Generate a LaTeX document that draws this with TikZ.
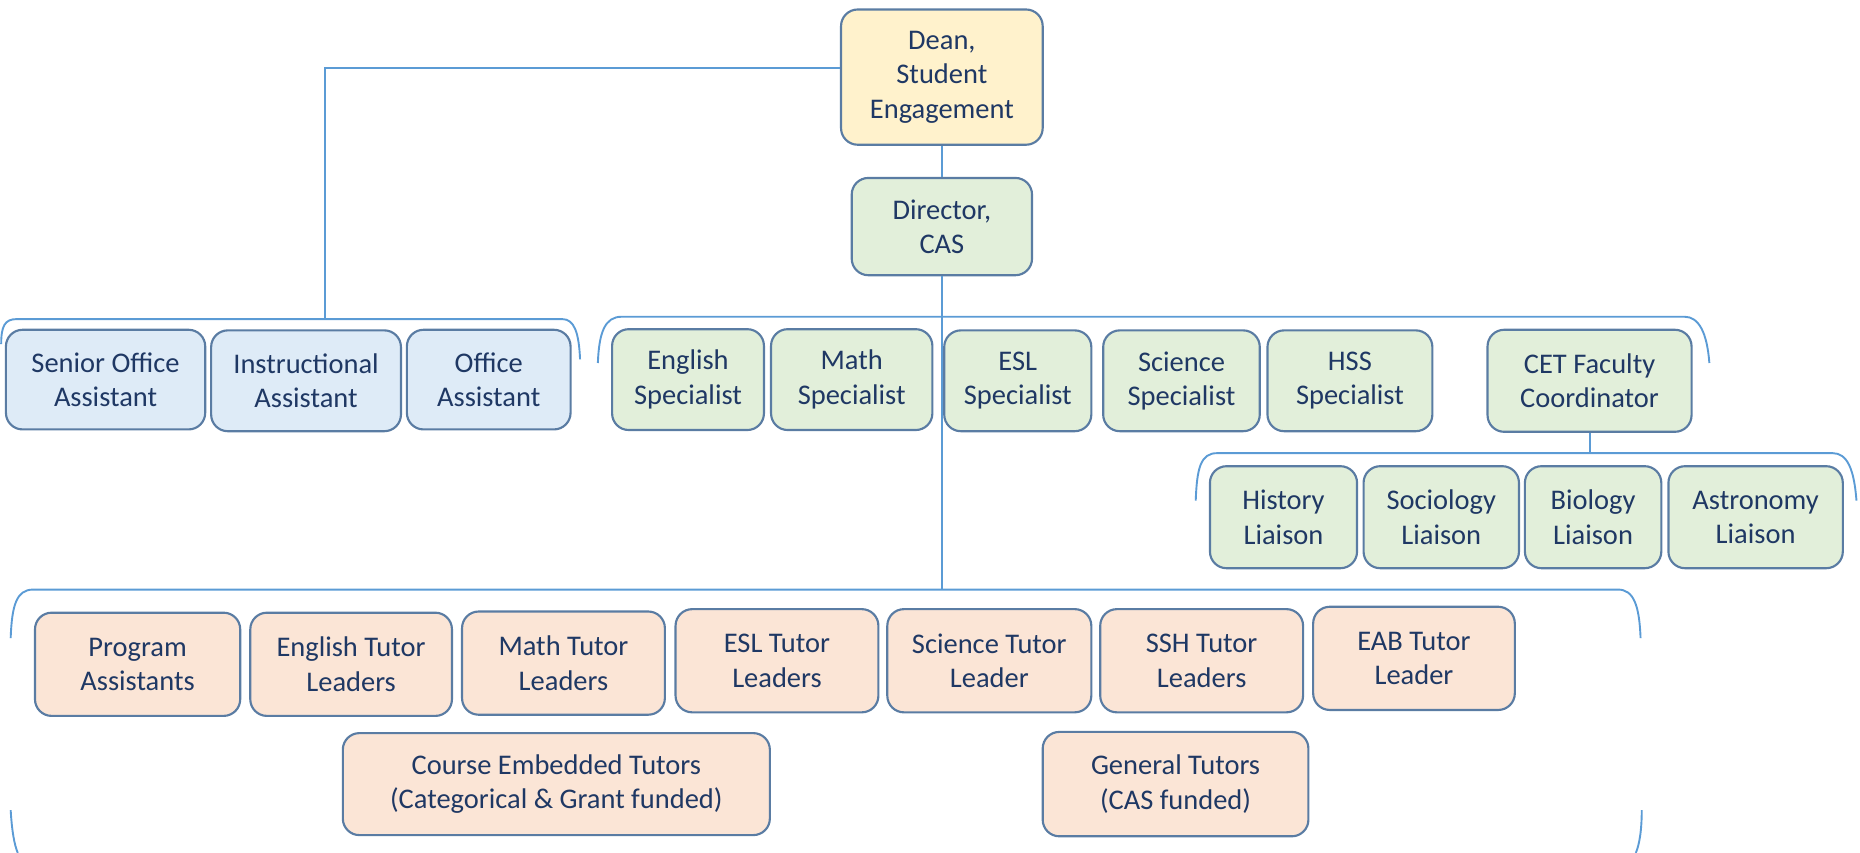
\documentclass[tikz,border=0pt]{standalone}
\usepackage{fontspec}
\setmainfont{Carlito}
\usetikzlibrary{positioning}
\definecolor{ink}{HTML}{1F3864}
\definecolor{rim}{HTML}{5A7CA3}
\definecolor{wire}{HTML}{5B9BD5}
\definecolor{deanfill}{HTML}{FFF2CC}
\definecolor{greenfill}{HTML}{E2EFDA}
\definecolor{bluefill}{HTML}{DEEBF7}
\definecolor{peachfill}{HTML}{FBE5D6}
\tikzset{
    box/.style ={
        shape=rectangle,
        rounded corners=7pt,
        draw=rim,
        line width=0.9pt,
        text=ink,
        align=center,
        inner sep=0pt,
        font=\fontsize{12}{14.5}\selectfont
    },
    deanbox/.style ={box, fill=deanfill},
    greenbox/.style ={box, fill=greenfill},
    staffbox/.style ={box, fill=bluefill},
    tutorbox/.style ={box, fill=peachfill},
    wire/.style ={draw=wire, line width=0.8pt}
}

\begin{document}
\begin{tikzpicture}[x=0.5pt,y=-0.5pt]
    \useasboundingbox (0,0) rectangle (1568,719);
    % top
    \node[deanbox,minimum width=85pt,minimum height=57pt] (dean) at(794,65) {Dean,\\Student\\Engagement};
    \node[greenbox,minimum width=76pt,minimum height=41pt] (dir) at(794,191) {Director,\\CAS};
    % support staff
    \node[staffbox,minimum width=84pt,minimum height=42pt] (senior) at(89,320) {Senior Office\\Assistant};
    \node[staffbox,minimum width=80pt,minimum height=42.5pt] (instr) at(258,321) {Instructional\\Assistant};
    \node[staffbox,minimum width=69pt,minimum height=42pt] (office) at(412,320) {Office\\Assistant};
    % specialists
    \node[greenbox,minimum width=64pt,minimum height=42.5pt] (eng) at(580,320) {English\\Specialist};
    \node[greenbox,minimum width=68pt,minimum height=42.5pt] (math) at(718,320) {Math\\Specialist};
    \node[greenbox,minimum width=62pt,minimum height=42.5pt] (esl) at(858,321) {ESL\\Specialist};
    \node[greenbox,minimum width=66pt,minimum height=42.5pt] (sci) at(996,321) {Science\\Specialist};
    \node[greenbox,minimum width=69.5pt,minimum height=42.5pt] (hss) at(1138,321) {HSS\\Specialist};
    \node[greenbox,minimum width=86pt,minimum height=43pt] (cet) at(1340,321) {CET Faculty\\Coordinator};
    % liaisons
    \node[greenbox,minimum width=62pt,minimum height=43pt] (history) at(1082,436) {History\\Liaison};
    \node[greenbox,minimum width=65.5pt,minimum height=43pt] (socio) at(1215,436) {Sociology\\Liaison};
    \node[greenbox,minimum width=57.5pt,minimum height=43pt] (bio) at(1343,436) {Biology\\Liaison};
    \node[greenbox,minimum width=73.5pt,minimum height=43pt] (astro) at(1480,436) {Astronomy\\Liaison};
    % tutors
    \node[tutorbox,minimum width=86.5pt,minimum height=43.5pt] (program) at(116,560) {Program\\Assistants};
    \node[tutorbox,minimum width=85pt,minimum height=43.5pt] (engtutor) at(296,560) {English Tutor\\Leaders};
    \node[tutorbox,minimum width=85.5pt,minimum height=43.5pt] (mathtutor) at(475,559) {Math Tutor\\Leaders};
    \node[tutorbox,minimum width=85.5pt,minimum height=43.5pt] (esltutor) at(655,557) {ESL Tutor\\Leaders};
    \node[tutorbox,minimum width=86pt,minimum height=43.5pt] (scitutor) at(834,557) {Science Tutor\\Leader};
    \node[tutorbox,minimum width=85.5pt,minimum height=43.5pt] (sshtutor) at(1013,557) {SSH Tutor\\Leaders};
    \node[tutorbox,minimum width=85pt,minimum height=43.5pt] (eabtutor) at(1192,555) {EAB Tutor\\Leader};
    \node[tutorbox,minimum width=180pt,minimum height=43pt] (course) at(469,661) {Course Embedded Tutors\\(Categorical \& Grant funded)};
    \node[tutorbox,minimum width=112pt,minimum height=44pt] (general) at(991,661) {General Tutors\\(CAS funded)};
    % brackets
    \coordinate (stafftop) at(274,269);
    \coordinate (tutortop) at(794,497);
    \coordinate (liaisontop) at(1340,382);
    \draw[wire] (1,290) .. controls (1,275) and (4,269) .. (14,269) -- (474,269) .. controls (484,269) and (488,280) .. (489,303);
    \draw[wire] (504,306) .. controls (505,280) and (510,267) .. (524,267) -- (1420,267) .. controls (1432,267) and (1439,280) .. (1441,306);
    \draw[wire] (1008,422) .. controls (1009,395) and (1012,382) .. (1026,382) -- (1545,382) .. controls (1557,382) and (1563,395) .. (1565,422);
    \draw[wire] (9,538) .. controls (10,510) and (14,497) .. (28,497) -- (1364,497) .. controls (1377,497) and (1382,510) .. (1383,538);
    \draw[wire] (9,683) .. controls (10,700) and (12,712) .. (15,719);
    \draw[wire] (1384,683) .. controls (1384,700) and (1382,712) .. (1379,719);
    % links
    \draw[wire] ([yshift=4pt]dean.west) -| (stafftop);
    \draw[wire] (dean.south) -- (dir.north);
    \draw[wire] (dir.south) -- (tutortop);
    \draw[wire] (cet.south) -- (liaisontop);
\end{tikzpicture}
\end{document}
